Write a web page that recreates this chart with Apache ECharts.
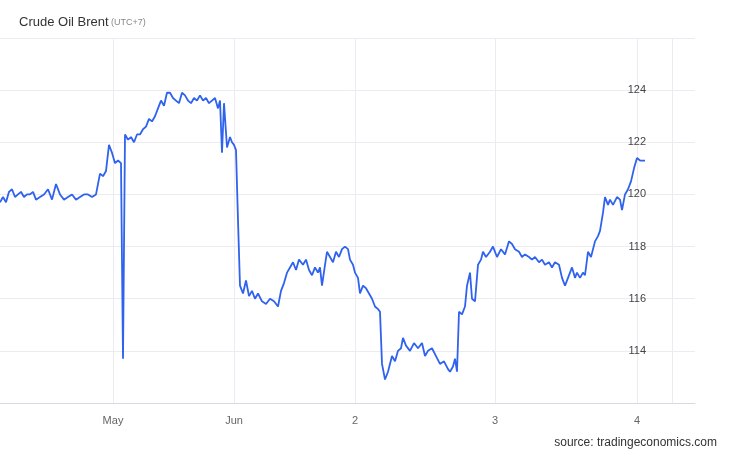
<!DOCTYPE html>
<html>
<head><meta charset="utf-8"></head>
<body style="margin:0">
<div id="container" style="width:730px;height:458px"></div>
<script src="https://cdn.jsdelivr.net/npm/echarts@6/dist/echarts.min.js"></script>
<script>
// time position (chart-relative units 0..695) and price
var times = [0,3,6,9,12,15,18,21,24,27,30,33,36,40,44,48,52,56,60,64,68,72,76,80,84,88,92,96,100,103,106,109,112,115,118,121,123,125,128,131,134,137,140,143,146,149,152,155,158,161,164,167,170,173,176,179,182,185,188,191,194,197,200,203,206,209,212,215,218,220,222,224,227,230,232,234,236,238,240,243,246,249,252,255,258,262,266,270,274,278,281,284,287,290,293,296,299,303,306,309,312,315,318,320,322,325,327,330,333,336,339,342,345,348,350,353,355,358,360,363,366,369,372,375,378,380,382,385,388,392,395,398,401,403,406,410,414,418,422,425,428,432,436,440,444,448,450,453,455,457,459,462,465,467,470,472,475,478,481,483,486,490,493,497,501,505,509,512,515,519,522,525,529,532,535,539,542,545,549,552,555,559,562,565,568,572,575,577,580,583,585,588,591,595,598,600,603,605,608,610,613,617,620,622,625,628,631,634,637,640,642,645,648,650,653,656,659,661];
var prices = [119.7,119.9,119.7,120.1,120.2,119.9,120.0,120.1,119.9,120.0,120.0,120.1,119.8,119.9,120.0,120.2,119.8,120.4,120.0,119.8,119.9,120.0,119.8,119.9,120.0,120.0,119.9,120.0,120.8,120.7,120.9,121.9,121.6,121.2,121.3,121.2,113.7,122.3,122.1,122.2,122.0,122.3,122.3,122.5,122.6,122.9,122.8,123.0,123.3,123.6,123.4,123.9,123.9,123.7,123.6,123.5,123.9,123.8,123.6,123.5,123.7,123.6,123.8,123.6,123.7,123.5,123.6,123.7,123.3,123.6,121.6,123.5,121.8,122.2,122.0,121.9,121.7,119.0,116.5,116.2,116.7,116.1,116.3,116.0,116.2,115.9,115.8,116.0,115.9,115.7,116.3,116.6,117.0,117.2,117.4,117.1,117.5,117.3,117.5,117.1,116.9,117.2,117.0,117.2,116.5,117.3,117.8,117.6,117.4,117.8,117.6,117.9,118.0,117.9,117.5,117.3,117.0,116.8,116.2,116.5,116.4,116.2,116.0,115.7,115.6,115.5,113.5,112.9,113.2,113.8,113.6,114.0,114.1,114.5,114.2,114.0,114.3,114.1,114.3,113.8,114.0,114.1,113.8,113.5,113.6,113.3,113.2,113.4,113.7,113.2,115.5,115.4,115.7,116.5,117.0,116.0,115.9,117.3,117.5,117.8,117.6,117.8,118.0,117.6,117.9,117.7,118.2,118.1,117.9,117.8,117.6,117.7,117.6,117.5,117.6,117.4,117.5,117.3,117.4,117.2,117.4,117.3,116.8,116.5,116.8,117.2,116.8,117.0,116.8,117.0,116.9,117.8,117.6,118.2,118.4,118.6,119.3,119.9,119.6,119.8,119.6,119.9,119.8,119.4,120.0,120.2,120.5,121.0,121.4,121.3,121.3,121.3];
var tickPos = [113, 234, 355, 495, 637, 672];
var tickLabels = ['May', 'Jun', '2', '3', '4', ''];

var data = times.map(function (t, i) { return [t, prices[i]]; });
var chart = echarts.init(document.getElementById('container'));
chart.setOption({
  animation: false,
  title: [{
    text: '{a|Crude Oil Brent}{b| (UTC+7)}',
    left: 14, top: 11,
    textStyle: { rich: {
      a: { fontSize: 13, color: '#333', fontWeight: 'normal', fontFamily: 'Liberation Sans' },
      b: { fontSize: 9, color: '#888', fontWeight: 'normal', fontFamily: 'Liberation Sans' }
    } }
  }, {
    text: 'source: tradingeconomics.com',
    right: 8, bottom: 4,
    textStyle: { fontSize: 12, fontWeight: 'normal', color: '#333', fontFamily: 'Liberation Sans' }
  }],
  grid: { left: 0, right: 35, top: 38, bottom: 55 },
  xAxis: {
    type: 'value', min: 0, max: 695,
    axisLine: { show: true, lineStyle: { color: '#d8d8e0' } },
    axisTick: { show: false, customValues: tickPos },
    axisLabel: { customValues: tickPos, color: '#666', fontSize: 11, margin: 12,
      formatter: function (v) { var i = tickPos.indexOf(v); return i >= 0 ? tickLabels[i] : ''; } },
    splitLine: { show: true, lineStyle: { color: '#eeeaf2' } }
  },
  yAxis: {
    type: 'value', position: 'right', min: 112, max: 126, interval: 2,
    axisLine: { show: false }, axisTick: { show: false },
    axisLabel: { inside: true, margin: 49, color: '#444', fontSize: 11,
      formatter: function (v) { return (v === 112 || v === 126) ? '' : v; } },
    splitLine: { lineStyle: { color: '#eeeaf2' } }
  },
  series: [{
    type: 'line', data: data, showSymbol: false,
    lineStyle: { color: '#2f63ee', width: 1.8 }
  }]
});
</script>
</body>
</html>
